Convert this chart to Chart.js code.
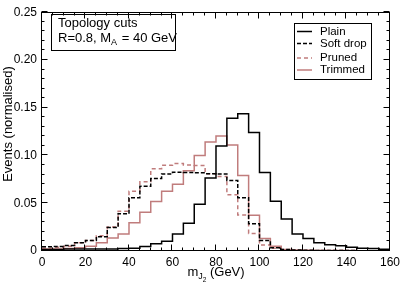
<!DOCTYPE html>
<html><head><meta charset="utf-8">
<script src="https://cdn.jsdelivr.net/npm/chart.js@4.4.0/dist/chart.umd.min.js"></script>
<style>html,body{margin:0;padding:0;background:#fff;overflow:hidden}</style>
</head><body>
<canvas id="c" width="404" height="286"></canvas>
<script>
// bin edges (GeV), 32 bins of width 5
const binEdges = [0,5,10,15,20,25,30,35,40,45,50,55,60,65,70,75,80,85,90,95,100,105,110,115,120,125,130,135,140,145,150,155,160];
const plain    = [0.0015,0.0015,0.002,0.002,0.002,0.002,0.002,0.0025,0.003,0.0048,0.0075,0.0102,0.0178,0.029,0.049,0.0765,0.110,0.139,0.1436,0.124,0.0823,0.052,0.0335,0.0178,0.013,0.0086,0.0065,0.0056,0.004,0.003,0.0025,0.0018];
const softDrop = [0.0045,0.0048,0.0058,0.0086,0.011,0.015,0.0245,0.039,0.0558,0.0677,0.0758,0.0806,0.0825,0.0823,0.0818,0.081,0.0806,0.0739,0.0558,0.0286,0.011,0.0035,0.0015,0.001,0.0008,0.0006,0.0005,0.0005,0.0004,0.0003,0.0003,0.0003];
const pruned   = [0.003,0.004,0.005,0.0086,0.011,0.016,0.025,0.0415,0.0626,0.0725,0.086,0.0898,0.0915,0.090,0.0895,0.081,0.078,0.059,0.0378,0.0184,0.0062,0.003,0.0012,0.0008,0.0006,0.0005,0.0004,0.0004,0.0003,0.0003,0.0002,0.0002];
const trimmed  = [0.002,0.002,0.0025,0.0035,0.005,0.0086,0.0137,0.0178,0.0296,0.0405,0.0517,0.0626,0.070,0.084,0.100,0.114,0.1205,0.111,0.079,0.0374,0.013,0.005,0.0015,0.001,0.0008,0.0006,0.0005,0.0005,0.0004,0.0003,0.0003,0.0003];
const seriesLabels = ['Plain','Soft drop','Pruned','Trimmed'];
const xTicks = [0,20,40,60,80,100,120,140,160];
const xTickLabels = ['0','20','40','60','80','100','120','140','160'];
const yTicks = [0,0.05,0.10,0.15,0.20,0.25];
const yTickLabels = ['0','0.05','0.10','0.15','0.20','0.25'];
const xMinorStep = 5, yMinorStep = 0.01;

const FONT = "'Liberation Sans', Arial, Helvetica, sans-serif";
const PINK = '#c07c7c';

function steps(vals){
  const pts = vals.map((v,i)=>({x: binEdges[i], y: v}));
  pts.push({x: binEdges[vals.length], y: vals[vals.length-1]});
  return pts;
}

const decor = {
  id: 'decor',
  afterDatasetsDraw(chart){
    const {ctx, chartArea:a, scales:{x, y}} = chart;
    const L = Math.round(a.left)-0.5, R = Math.round(a.right)-0.5, T = Math.round(a.top)+0.5, B = Math.round(a.bottom)-0.5;
    ctx.save();
    ctx.strokeStyle = '#000'; ctx.lineWidth = 1;
    ctx.strokeRect(L, T, R-L, B-T);
    ctx.beginPath();
    for (let v = x.min; v <= x.max + 1e-9; v += xMinorStep){
      const major = xTicks.some(t => Math.abs(t-v) < 1e-6);
      const len = major ? 6 : 3;
      const px = Math.round(x.getPixelForValue(v)) - 0.5;
      ctx.moveTo(px, B); ctx.lineTo(px, B-len);
      ctx.moveTo(px, T); ctx.lineTo(px, T+len);
    }
    for (let k = 0; k <= Math.round((y.max-y.min)/yMinorStep); k++){
      const v = y.min + k*yMinorStep;
      const major = yTicks.some(t => Math.abs(t-v) < 1e-6);
      const len = major ? 6 : 3;
      const py = Math.round(y.getPixelForValue(v)) - 0.5;
      ctx.moveTo(L, py); ctx.lineTo(L+len, py);
      ctx.moveTo(R, py); ctx.lineTo(R-len, py);
    }
    ctx.stroke();

    // annotation box
    ctx.fillStyle = '#000';
    ctx.strokeRect(51.5, 14.5, 124, 36);
    ctx.font = '13px ' + FONT;
    ctx.textBaseline = 'alphabetic'; ctx.textAlign = 'left';
    ctx.fillText('Topology cuts', 58, 27);
    let tx = 58;
    const s1 = 'R=0.8, M';
    ctx.fillText(s1, tx, 42); tx += ctx.measureText(s1).width;
    ctx.font = '9px ' + FONT; ctx.fillText('A', tx, 45); tx += ctx.measureText('A').width + 1;
    ctx.font = '13px ' + FONT; ctx.fillText(' = 40 GeV', tx, 42);

    // legend
    ctx.strokeRect(294.5, 23.5, 77, 56);
    const ys = [31.5, 43.5, 58, 70];
    ctx.font = '11.5px ' + FONT; ctx.textBaseline = 'middle';
    chart.data.datasets.forEach((ds, i) => {
      ctx.save();
      ctx.strokeStyle = ds.borderColor; ctx.lineWidth = ds.borderWidth;
      ctx.setLineDash(ds.borderDash || []);
      ctx.beginPath(); ctx.moveTo(297, ys[i]); ctx.lineTo(312, ys[i]); ctx.stroke();
      ctx.restore();
      ctx.fillStyle = '#000';
      ctx.fillText(ds.label, 320, ys[i]);
    });

    // y title
    ctx.save();
    ctx.font = '13px ' + FONT; ctx.textAlign = 'center'; ctx.textBaseline = 'middle';
    ctx.translate(8, 124); ctx.rotate(-Math.PI/2);
    ctx.fillText('Events (normalised)', 0, 0);
    ctx.restore();

    // x title m_{J_2} (GeV)
    ctx.textBaseline = 'alphabetic'; ctx.textAlign = 'left';
    const parts = [['m', 13, 0], ['J', 9, 3], ['2', 6.5, 6], [' (GeV)', 13, 0]];
    let w = 0;
    parts.forEach(p => { ctx.font = p[1] + 'px ' + FONT; p.push(ctx.measureText(p[0]).width); w += p[3]; });
    let cx = (a.left + a.right)/2 - w/2;
    parts.forEach(p => { ctx.font = p[1] + 'px ' + FONT; ctx.fillText(p[0], cx, 276 + p[2]); cx += p[3]; });
    ctx.restore();
  }
};

const mk = (label, vals, color, dash) => ({
  label, data: steps(vals), borderColor: color, borderWidth: 1.5,
  borderDash: dash, stepped: 'before', pointRadius: 0, fill: false, tension: 0
});

new Chart(document.getElementById('c'), {
  type: 'line',
  data: { datasets: [
    mk(seriesLabels[0], plain, '#000', []),
    mk(seriesLabels[1], softDrop, '#000', [4,2]),
    mk(seriesLabels[2], pruned, PINK, [4,3]),
    mk(seriesLabels[3], trimmed, PINK, [])
  ]},
  options: {
    responsive: false, animation: false, devicePixelRatio: 1,
    layout: { padding: { top: 5, right: 11, left: 0, bottom: 0 } },
    plugins: { legend: { display: false }, tooltip: { enabled: false } },
    scales: {
      x: {
        type: 'linear', min: 0, max: 160,
        grid: { display: false, drawTicks: false }, border: { display: false },
        ticks: { stepSize: 20, autoSkip: false, maxRotation: 0, padding: 4, color: '#000',
          font: { family: FONT, size: 12 },
          callback: v => { const i = xTicks.indexOf(v); return i >= 0 ? xTickLabels[i] : ''; } },
        afterFit: s => { s.height = 35; }
      },
      y: {
        type: 'linear', min: 0, max: 0.25,
        grid: { display: false, drawTicks: false }, border: { display: false },
        ticks: { stepSize: 0.05, padding: 5, color: '#000',
          font: { family: FONT, size: 12 },
          callback: v => { const i = yTicks.findIndex(t => Math.abs(t-v) < 1e-9); return i >= 0 ? yTickLabels[i] : ''; } },
        afterFit: s => { s.width = 42; }
      }
    }
  },
  plugins: [decor]
});
</script>
</body></html>
